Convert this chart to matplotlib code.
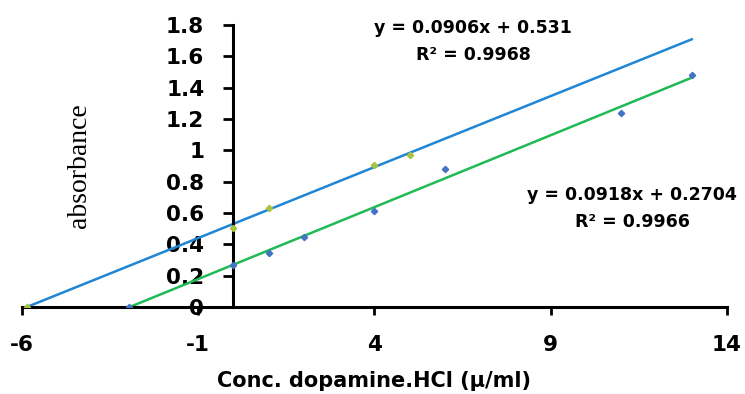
import matplotlib.pyplot as plt
import numpy as np

# standard addition data
sample_x = [-2.95, 0, 1, 2, 4, 6, 11, 13]
sample_y = [0, 0.27, 0.345, 0.447, 0.611, 0.878, 1.24, 1.48]
spiked_x = [-5.86, 0, 1, 4, 5]
spiked_y = [0, 0.505, 0.633, 0.904, 0.97]

# trendline coefficients as printed on the chart
fit_top = (0.0906, 0.531, 0.9968)
fit_low = (0.0918, 0.2704, 0.9966)
x_end = 13

x_ticks = [-6, -1, 4, 9, 14]
y_ticks = [0, 0.2, 0.4, 0.6, 0.8, 1, 1.2, 1.4, 1.6, 1.8]
y_labels = ["0", "0.2", "0.4", "0.6", "0.8", "1", "1.2", "1.4", "1.6", "1.8"]

bold_font = "DejaVu Sans"

fig = plt.figure(figsize=(7.45, 3.94), dpi=100)
ax = fig.add_axes([0.0295, 0.2208, 0.9463, 0.7157])

# trendlines
for (m, b, r2), col in [(fit_top, "#1f86d6"), (fit_low, "#1fba55")]:
    lx = np.array([-b / m, x_end])
    ax.plot(lx, m * lx + b, color=col, lw=1.8, zorder=2)

ax.plot(sample_x, sample_y, "D", color="#4472C4", ms=3.2, zorder=3)
ax.plot(spiked_x, spiked_y, "D", color="#A9C23F", ms=3.2, zorder=3)

ax.set_xlim(-6, 14)
ax.set_ylim(0, 1.8)

ax.spines["left"].set_position(("data", 0))
ax.spines["bottom"].set_position(("data", 0))
ax.spines["top"].set_visible(False)
ax.spines["right"].set_visible(False)
ax.spines["left"].set_linewidth(2.2)
ax.spines["bottom"].set_linewidth(2.2)

ax.set_xticks(x_ticks)
ax.set_xticklabels([str(t) for t in x_ticks])
ax.set_yticks(y_ticks)
ax.set_yticklabels(y_labels)
ax.tick_params(axis="y", direction="out", length=7, width=2, pad=14, labelsize=15.5)
ax.tick_params(axis="x", direction="out", length=6, width=2, pad=14, labelsize=15.5)
for lab in ax.get_xticklabels() + ax.get_yticklabels():
    lab.set_fontfamily(bold_font)
    lab.set_fontweight("bold")

ax.set_xlabel("Conc. dopamine.HCl (\u03bc/ml)", fontsize=15, fontweight="bold",
              fontfamily=bold_font, labelpad=12)
fig.text(0.107, 0.58, "absorbance", rotation=90, ha="center", va="center",
         fontsize=20, fontfamily="Liberation Serif")

ax.text(6.8, 1.694, "y = %gx + %g\nR\u00b2 = %g" % fit_top, ha="center", va="center",
        fontsize=12.5, fontweight="bold", fontfamily=bold_font, linespacing=1.65)
ax.text(11.31, 0.629, "y = %gx + %g\nR\u00b2 = %g" % fit_low, ha="center", va="center",
        fontsize=12.5, fontweight="bold", fontfamily=bold_font, linespacing=1.65)

fig.savefig("out.png", dpi=100)
